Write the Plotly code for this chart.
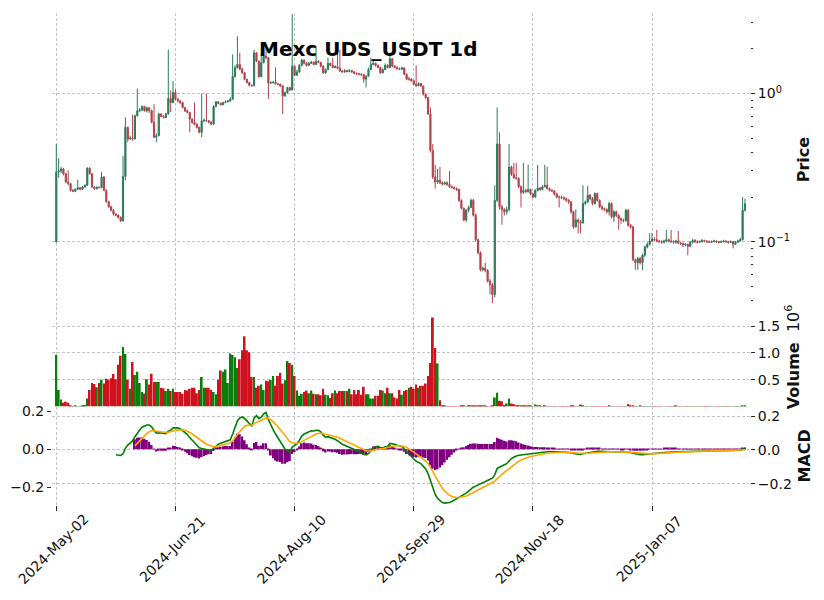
import numpy as np
import pandas as pd
import plotly.graph_objects as go

# ---------------- data ----------------
start_date = "2024-05-02"
first_open = 0.100

closes = [
    .295, .300, .310, .287, .253, .246, .222, .219, .226, .231,
    .226, .234, .240, .313, .287, .234, .228, .233, .232, .273,
    .222, .186, .172, .163, .153, .151, .146, .138, .276, .591,
    .494, .500, .494, .708, .765, .775, .818, .765, .800, .765,
    .639, .507, .520, .727, .700, .690, .727, .926, .870, 1.016,
    .916, .893, .870, .805, .765, .746, .672, .639, .622, .591,
    .547, .655, .660, .655, .640, .622, .818, .879, .857, .840,
    .870, .880, .890, .916, 1.30, 1.494, 1.573, 1.457, 1.383, 1.248,
    1.185, 1.137, 1.130, 1.885, 1.656, 1.30, 1.614, 1.79, 1.745, 1.18,
    1.185, 1.19, 1.16, 1.155, 1.126, .965, 1.016, 1.097, 1.058, 1.53,
    1.33, 1.40, 1.55, 1.68, 1.60, 1.55, 1.60, 1.63, 1.57, 1.65,
    1.62, 1.53, 1.38, 1.45, 1.60, 1.55, 1.50, 1.52, 1.48, 1.42,
    1.40, 1.43, 1.41, 1.43, 1.40, 1.37, 1.36, 1.35, 1.34, 1.25,
    1.31, 1.45, 1.57, 1.60, 1.55, 1.50, 1.38, 1.45, 1.55, 1.50,
    1.72, 1.53, 1.50, 1.47, 1.46, 1.49, 1.35, 1.25, 1.25, 1.22,
    1.155, 1.13, 1.17, 1.126, .99, .94, .727, .412, .273, .253,
    .260, .250, .245, .250, .243, .235, .232, .228, .225, .190,
    .168, .140, .163, .170, .190, .151, .103, .084, .0646, .066,
    .064, .054, .0512, .0439, .190, .457, .172, .165, .159, .165,
    .319, .285, .270, .268, .235, .215, .222, .218, .225, .210,
    .200, .222, .230, .225, .235, .240, .228, .222, .220, .210,
    .200, .200, .198, .195, .190, .185, .159, .126, .140, .136,
    .134, .181, .185, .206, .195, .181, .211, .190, .172, .167,
    .165, .159, .181, .147, .159, .150, .143, .140, .139, .163,
    .129, .126, .0754, .072, .077, .072, .081, .092, .096, .101,
    .104, .103, .101, .100, .099, .101, .103, .101, .100, .099,
    .101, .098, .097, .095, .096, .093, .099, .102, .100, .099,
    .100, .102, .101, .100, .099, .100, .101, .100, .099, .100,
    .101, .100, .099, .100, .096, .099, .101, .103, .163, .180,
]

highs = [
    .457, .366, .320, .315, .292, .303, .250, .226, .229, .262,
    .234, .238, .244, .318, .318, .290, .236, .236, .236, .295,
    .276, .225, .189, .175, .166, .156, .153, .148, .378, .690,
    .600, .520, .720, .720, 1.08, .800, .830, .825, .818, .810,
    .780, .848, .540, .740, .735, .715, .740, 1.98, 1.05, 1.216,
    1.07, .930, .900, .880, .815, .780, .750, .680, .870, .630,
    .600, 1.00, .680, 1.00, .665, .650, .830, .890, .885, .870,
    .880, .900, .905, .940, 1.84, 1.55, 2.44, 1.885, 1.50, 1.40,
    1.26, 1.20, 1.15, 1.98, 1.90, 1.67, 1.885, 2.14, 2.09, 1.76,
    1.21, 1.22, 1.50, 1.18, 1.17, 1.14, 1.03, 1.11, 1.11, 3.44,
    1.55, 1.45, 1.58, 1.72, 1.70, 1.63, 1.64, 1.66, 1.65, 2.09,
    1.68, 1.64, 1.55, 1.48, 1.75, 1.62, 1.75, 1.55, 1.98, 1.98,
    1.45, 1.46, 1.45, 1.46, 1.45, 1.42, 1.39, 1.38, 1.37, 1.36,
    1.33, 1.50, 1.745, 1.70, 1.62, 1.57, 1.52, 1.48, 1.60, 1.58,
    1.90, 1.74, 1.56, 1.53, 1.50, 1.52, 1.50, 1.37, 1.30, 1.27,
    1.24, 1.55, 1.19, 1.18, 1.13, 1.00, .95, .805, .457, .330,
    .310, .320, .255, .255, .255, .300, .240, .236, .232, .228,
    .193, .170, .166, .175, .195, .195, .155, .105, .086, .068,
    .072, .065, .056, .0525, .240, .805, .547, .178, .168, .172,
    .457, .325, .340, .340, .272, .240, .340, .228, .330, .228,
    .214, .226, .330, .234, .240, .330, .320, .232, .226, .223,
    .214, .205, .204, .202, .198, .194, .188, .162, .165, .143,
    .140, .240, .190, .238, .210, .200, .215, .214, .193, .176,
    .170, .168, .186, .184, .163, .162, .153, .146, .143, .167,
    .166, .132, .128, .077, .079, .079, .083, .094, .099, .114,
    .114, .107, .120, .103, .102, .103, .120, .105, .120, .102,
    .103, .118, .100, .099, .098, .097, .101, .104, .104, .102,
    .102, .104, .103, .102, .102, .102, .103, .102, .101, .102,
    .103, .102, .101, .102, .101, .101, .103, .106, .200, .195,
]

lows = [
    .098, .270, .290, .280, .248, .240, .218, .216, .216, .224,
    .222, .224, .231, .238, .284, .230, .224, .225, .228, .230,
    .219, .183, .169, .160, .150, .148, .143, .136, .137, .260,
    .469, .485, .480, .490, .700, .750, .760, .755, .745, .740,
    .630, .500, .470, .515, .690, .680, .685, .720, .750, .860,
    .900, .870, .850, .795, .750, .735, .547, .625, .610, .580,
    .540, .507, .640, .645, .630, .610, .615, .810, .845, .830,
    .835, .860, .870, .880, .910, 1.28, 1.48, 1.44, 1.36, 1.23,
    1.17, 1.12, 1.11, 1.12, 1.63, 1.28, 1.29, 1.60, 1.70, .916,
    1.16, 1.17, 1.15, 1.14, 1.11, .727, .950, 1.00, 1.04, 1.05,
    1.31, 1.32, 1.38, 1.53, 1.57, 1.52, 1.53, 1.58, 1.55, 1.56,
    1.60, 1.50, 1.36, 1.36, 1.44, 1.53, 1.48, 1.48, 1.46, 1.40,
    1.38, 1.38, 1.39, 1.39, 1.38, 1.35, 1.34, 1.33, 1.32, 1.185,
    1.10, 1.30, 1.44, 1.55, 1.52, 1.48, 1.36, 1.37, 1.44, 1.48,
    1.49, 1.50, 1.48, 1.45, 1.44, 1.44, 1.33, 1.23, 1.22, 1.20,
    1.14, 1.11, 1.12, 1.11, .97, .92, .72, .40, .265, .228,
    .245, .245, .240, .242, .238, .230, .228, .224, .220, .186,
    .165, .137, .136, .158, .168, .148, .100, .082, .063, .063,
    .062, .053, .0439, .0385, .0420, .185, .165, .130, .150, .152,
    .160, .278, .265, .262, .230, .170, .210, .212, .214, .206,
    .196, .198, .218, .220, .222, .232, .225, .218, .216, .205,
    .196, .170, .194, .190, .186, .180, .155, .122, .124, .114,
    .114, .132, .176, .182, .190, .176, .178, .186, .168, .163,
    .161, .155, .150, .143, .136, .146, .120, .132, .135, .136,
    .126, .122, .074, .0645, .0645, .070, .0645, .079, .090, .094,
    .099, .101, .099, .098, .097, .097, .099, .099, .098, .097,
    .097, .096, .095, .092, .093, .081, .092, .097, .098, .097,
    .098, .099, .099, .098, .098, .098, .099, .098, .097, .098,
    .099, .098, .097, .098, .090, .095, .098, .100, .102, .160,
]

# volume in millions of units
volume_m = [
    .96, .31, .13, .07, .09, .07, .01, .005, .01, .005,
    .005, .01, .03, .15, .31, .44, .42, .36, .44, .50,
    .43, .52, .50, .53, .605, .51, .78, .945, 1.11, .98,
    .50, .33, .83, .59, .65, .44, .27, .24, .51, .41,
    .61, .46, .46, .46, .35, .34, .29, .33, .29, .33,
    .27, .27, .27, .24, .31, .30, .33, .35, .35, .25,
    .31, .55, .35, .35, .35, .31, .27, .23, .50, .67,
    .65, .69, .44, .99, .96, .92, .72, .88, 1.05, 1.31,
    1.05, 1.01, .55, .55, .35, .39, .41, .31, .48, .47,
    .50, .57, .39, .57, .63, .43, .49, .85, .81, .78,
    .57, .30, .20, .24, .27, .30, .25, .30, .24, .23,
    .23, .21, .33, .22, .21, .16, .25, .30, .25, .29,
    .29, .29, .29, .33, .23, .31, .23, .31, .22, .37,
    .23, .23, .15, .15, .20, .20, .31, .30, .25, .35,
    .25, .25, .17, .15, .31, .22, .29, .31, .35, .37,
    .33, .41, .35, .39, .39, .43, .57, .81, 1.66, 1.09,
    .80, .12, .010, .008, .006, .005, .004, .004, .005, .006,
    .010, .008, .006, .012, .010, .015, .020, .010, .008, .012,
    .008, .006, .005, .010, .17, .26, .11, .10, .03, .06,
    .15, .06, .05, .02, .03, .02, .01, .01, .01, .008,
    .006, .04, .02, .01, .006, .008, .005, .004, .005, .006,
    .004, .005, .004, .006, .005, .004, .008, .010, .006, .005,
    .040, .010, .006, .005, .004, .005, .004, .006, .005, .004,
    .005, .006, .020, .005, .004, .005, .006, .004, .005, .004,
    .050, .010, .012, .006, .005, .010, .006, .005, .004, .005,
    .006, .004, .005, .004, .003, .004, .005, .003, .004, .003,
    .020, .004, .003, .004, .003, .004, .005, .003, .004, .003,
    .004, .003, .004, .003, .003, .004, .003, .004, .003, .004,
    .003, .004, .003, .004, .004, .003, .004, .005, .020, .015,
]

tick_days = [0, 50, 100, 150, 200, 250]
title_text = "Mexc UDS_USDT 1d"

# ---------------- derived ----------------
n = len(closes)
opens = [first_open] + closes[:-1]
dates = pd.date_range(start_date, periods=n, freq="D")
tick_labels = [dates[i].strftime("%Y-%b-%d") for i in tick_days]
xs = list(range(n))

close_s = pd.Series(closes)
ema12 = close_s.ewm(span=12, adjust=False).mean()
ema26 = close_s.ewm(span=26, adjust=False).mean()
macd = ema12 - ema26
macd[:25] = np.nan
signal = macd.ewm(span=9, adjust=False).mean()
signal[:33] = np.nan
hist = macd - signal

UP_C, DN_C = "#2b7a59", "#b3404a"
VUP, VDN = "#0b7d0b", "#d0121f"
vol_colors = [VUP if c >= o else VDN for o, c in zip(opens, closes)]

FONT = "DejaVu Sans"
GRID = "#c4c4c4"

fig = go.Figure()
fig.add_trace(go.Candlestick(
    x=xs, open=opens, high=highs, low=lows, close=closes,
    increasing=dict(line=dict(color=UP_C, width=1), fillcolor=UP_C),
    decreasing=dict(line=dict(color=DN_C, width=1), fillcolor=DN_C),
    whiskerwidth=0, xaxis="x", yaxis="y", showlegend=False,
))
fig.add_trace(go.Bar(x=xs, y=volume_m, marker=dict(color=vol_colors, line=dict(width=0)),
                     xaxis="x2", yaxis="y2", showlegend=False))
# histogram on the left-hand MACD axis, lines on the right-hand one (drawn on top)
fig.add_trace(go.Bar(x=xs, y=hist, marker=dict(color="#800080", line=dict(width=0)),
                     xaxis="x3", yaxis="y3", showlegend=False))
fig.add_trace(go.Scatter(x=xs, y=macd, mode="lines", line=dict(color="#008000", width=1.6),
                         xaxis="x3", yaxis="y4", showlegend=False))
fig.add_trace(go.Scatter(x=xs, y=signal, mode="lines", line=dict(color="#ffa500", width=1.6),
                         xaxis="x3", yaxis="y4", showlegend=False))

L, R, T, B = 50, 74, 10, 95
W, H = 824, 600
ph = H - T - B
pw = W - L - R


def py(px):
    return (H - B - px) / ph


xcommon = dict(range=[-1.8, 291.1], tickmode="array", tickvals=tick_days, ticktext=tick_labels,
               showgrid=True, gridcolor=GRID, gridwidth=0.8, griddash="3px,2px",
               zeroline=False, showline=False)

annotations = [dict(text="<b>" + title_text + "</b>", x=(367 - L) / pw, y=py(46),
                    xref="paper", yref="paper", showarrow=False, font=dict(size=20, color="black"),
                    xanchor="center", yanchor="middle")]
for d, lab in zip(tick_days, tick_labels):
    annotations.append(dict(text=lab, x=d - 1.3, xref="x3", y=py(549), yref="paper",
                            showarrow=False, textangle=-45, font=dict(size=14, color="#111"),
                            xanchor="center", yanchor="middle"))

fig.update_layout(
    width=W, height=H, margin=dict(l=L, r=R, t=T, b=B),
    paper_bgcolor="white", plot_bgcolor="white",
    font=dict(family=FONT, size=14, color="#111"),
    bargap=0.2,
    xaxis=dict(**xcommon, anchor="y", showticklabels=False, ticks="", rangeslider=dict(visible=False)),
    xaxis2=dict(**xcommon, anchor="y2", matches="x", showticklabels=False, ticks=""),
    xaxis3=dict(**xcommon, anchor="y3", matches="x", showticklabels=False, ticks="outside",
                ticklen=5, tickcolor="#222"),
    yaxis=dict(domain=[py(305), py(10)], type="log", range=[-1.436, 0.544], side="right",
               tickmode="array", tickvals=[0.1, 1], ticktext=["10<sup>−1</sup>", "10<sup>0</sup>"],
               ticks="outside", ticklen=4, tickcolor="#222",
               minor=dict(tickmode="array",
                          tickvals=[0.04, 0.05, 0.06, 0.07, 0.08, 0.09, 0.2, 0.3, 0.4, 0.5, 0.6, 0.7, 0.8, 0.9, 2, 3],
                          ticks="outside", ticklen=2, tickcolor="#222", showgrid=False),
               showgrid=True, gridcolor=GRID, gridwidth=0.8, griddash="3px,2px", zeroline=False,
               title=dict(text="<b>Price</b>", font=dict(size=16), standoff=8)),
    yaxis2=dict(domain=[py(406), py(306)], range=[0, 1.85], side="right", anchor="x2",
                tickmode="array", tickvals=[0.5, 1.0, 1.5], ticktext=["0.5", "1.0", "1.5"],
                ticks="outside", ticklen=4, tickcolor="#222",
                showgrid=True, gridcolor=GRID, gridwidth=0.8, griddash="3px,2px", zeroline=False,
                title=dict(text="<b>Volume</b>  10<sup>6</sup>", font=dict(size=16), standoff=8)),
    yaxis3=dict(domain=[py(505), py(406)], range=[-0.295, 0.226], side="left", anchor="x3",
                tickmode="array", tickvals=[-0.2, 0.0, 0.2], ticktext=["−0.2", "0.0", "0.2"],
                ticks="outside", ticklen=4, tickcolor="#222", showgrid=False, zeroline=False),
    yaxis4=dict(overlaying="y3", side="right", anchor="x3", range=[-0.326, 0.256],
                tickmode="array", tickvals=[-0.2, 0.0, 0.2], ticktext=["−0.2", "0.0", "0.2"],
                ticks="outside", ticklen=4, tickcolor="#222",
                showgrid=True, gridcolor=GRID, gridwidth=0.8, griddash="3px,2px", zeroline=False,
                title=dict(text="<b>MACD</b>", font=dict(size=16), standoff=8)),
    annotations=annotations,
)

fig.write_html("out.html")
